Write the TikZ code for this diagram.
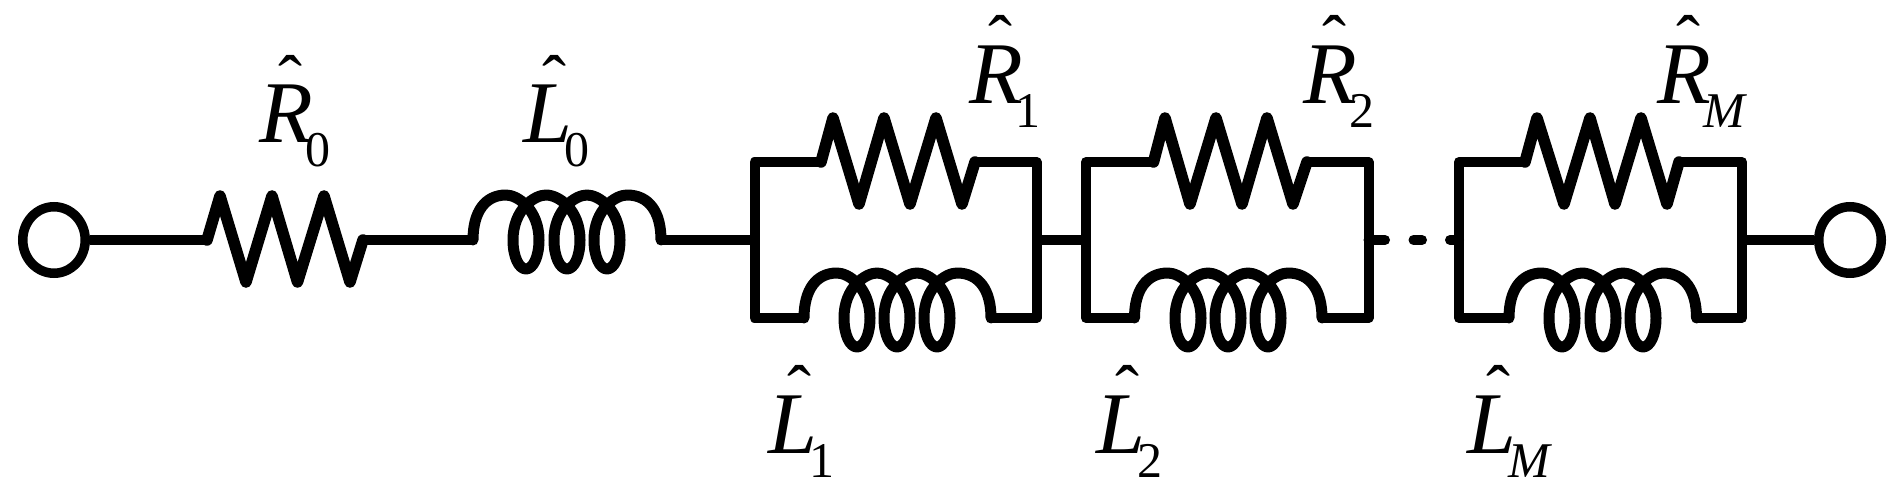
\documentclass[tikz,border=0pt]{standalone}
\usepackage{fontspec}
\setmainfont{Liberation Serif}
\usetikzlibrary{shapes.geometric}
\newcommand{\lblmain}{\fontsize{88}{88}\selectfont\itshape}
\newcommand{\lblsub}{\fontsize{50}{50}\selectfont}
% #1 letter, #2 subscript text
\newcommand{\hatlbl}[2]{\makebox[0pt][l]{\hspace{19pt}\raisebox{38pt}{\fontsize{72}{72}\selectfont\upshape\char"02C6}}{\lblmain #1}\hspace{-7pt}\raisebox{-24pt}{\lblsub #2}}
% resistor: #1 wire y, #2 start, #3..#8 alternating peak/valley x, #9 end
\newcommand{\resistor}[9]{\draw[wire,line width=11.5pt,line cap=round] (#2,#1) -- (#3,{#1-44}) -- (#4,{#1+42}) -- (#5,{#1-44}) -- (#6,{#1+42}) -- (#7,{#1-44}) -- (#8,{#1+42}) -- (#9,#1);}
% one coil turn: from hump top before centre #2, round the loop, up towards the next hump top; #1 wire y
\newcommand{\turn}[2]{
 .. controls ({#2-8},{#1-45}) and ({#2+13},{#1-30}) .. ({#2+13},{#1})
 .. controls ({#2+13},{#1+17}) and ({#2+7},{#1+29}) .. (#2,{#1+29})
 .. controls ({#2-7},{#1+29}) and ({#2-13},{#1+17}) .. ({#2-13},{#1})
 .. controls ({#2-13},{#1-30}) and ({#2+8},{#1-45}) .. ({#2+20},{#1-45})}
% inductor: #1 wire y, #2 start, #3 #4 #5 loop centres, #6 end
\newcommand{\coil}[6]{\draw[wire,line width=11pt,line cap=round]
 (#2,#1) .. controls (#2,{#1-28}) and ({#2+12},{#1-45}) .. ({#3-20},{#1-45})
 \turn{#1}{#3} \turn{#1}{#4} \turn{#1}{#5}
 .. controls ({#6-12},{#1-45}) and (#6,{#1-28}) .. (#6,#1);}
\tikzset{
 wire/.style={line width=10pt,line join=round,line cap=butt,black},
 terminal/.style={ellipse,draw=black,line width=9.5pt,fill=white,minimum width=62.5pt,minimum height=66.5pt,inner sep=0pt},
 lbl/.style={anchor=base west,inner sep=0pt,outer sep=0pt,text=black}
}
\begin{document}
\begin{tikzpicture}[x=1pt,y=-1pt]
\useasboundingbox (0,0) rectangle (1899,492);
\fill[white] (0,0) rectangle (1899,492);
% named wire points
\coordinate (r0a) at (207,240);
\coordinate (r0b) at (363,240);
\coordinate (l0a) at (473,240);
\coordinate (l0b) at (661,240);
\coordinate (b1l) at (754.5,240);
\coordinate (b1r) at (1036.5,240);
\coordinate (b2l) at (1086,240);
\coordinate (b2r) at (1368.5,240);
\coordinate (b3l) at (1459,240);
\coordinate (b3r) at (1742,240);
\coordinate (d1) at (1385,240);
\coordinate (d2) at (1413.5,240);
\coordinate (d3) at (1422,240);
\coordinate (d4) at (1450,240);
\node[terminal] (t1) at (54,240) {};
\node[terminal] (t2) at (1850,240) {};
% series chain
\draw[wire] (t1.east) -- (r0a);
\resistor{240}{207}{220}{246}{272}{297.5}{324}{350}{363}
\draw[wire] (r0b) -- (l0a);
\coil{240}{473}{526}{567}{607}{661}
\draw[wire] (l0b) -- (b1l);
\draw[wire] (b1r) -- (b2l);
\draw[wire,line cap=round] (b2r) -- (d1);
\draw[wire,line cap=round] (d2) -- (d3);
\draw[wire,line cap=round] (d4) -- (b3l);
\draw[wire] (b3r) -- (t2.west);
% section 1
\draw[wire,line cap=round] (821,162) -- (754.5,162) -- (754.5,318) -- (804,318);
\draw[wire,line cap=round] (975,162) -- (1036.5,162) -- (1036.5,318) -- (991,318);
\resistor{162}{821}{833}{859}{884}{910}{936}{962}{975}
\coil{318}{804}{857}{897}{937}{991}
% section 2
\draw[wire,line cap=round] (1153.5,162) -- (1086,162) -- (1086,318) -- (1134.5,318);
\draw[wire,line cap=round] (1307,162) -- (1368.5,162) -- (1368.5,318) -- (1322,318);
\resistor{162}{1153.5}{1165}{1190}{1216}{1242}{1267}{1293}{1307}
\coil{318}{1134.5}{1188}{1228}{1268}{1322}
% section M
\draw[wire,line cap=round] (1525,162) -- (1459,162) -- (1459,318) -- (1509,318);
\draw[wire,line cap=round] (1679,162) -- (1742,162) -- (1742,318) -- (1696.5,318);
\resistor{162}{1525}{1537}{1564}{1590}{1615}{1641}{1667}{1679}
\coil{318}{1509}{1562}{1603}{1643}{1696.5}
% labels
\node[lbl] (R0) at (259,143) {\hatlbl{R}{0}};
\node[lbl] (L0) at (523,143) {\hatlbl{L}{0}};
\node[lbl] (R1) at (969,104) {\hatlbl{R}{1}};
\node[lbl] (R2) at (1303,104) {\hatlbl{R}{2}};
\node[lbl] (RM) at (1657,104) {\hatlbl{R}{\itshape M}};
\node[lbl] (L1) at (768,453) {\hatlbl{L}{1}};
\node[lbl] (L2) at (1096,453) {\hatlbl{L}{2}};
\node[lbl] (LM) at (1467,453) {\hatlbl{L}{\itshape M}};
\end{tikzpicture}
\end{document}
